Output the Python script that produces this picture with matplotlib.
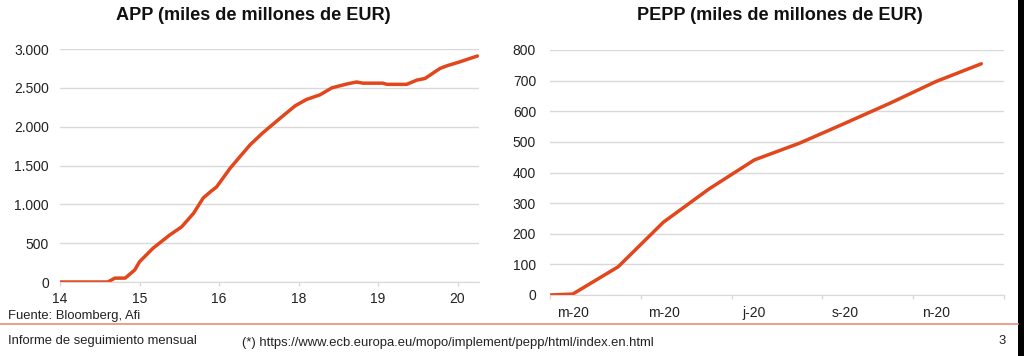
import matplotlib
matplotlib.use("Agg")
import matplotlib.pyplot as plt
from matplotlib.patches import Rectangle
from matplotlib.ticker import FuncFormatter

plt.rcParams['font.family'] = ['Liberation Sans', 'DejaVu Sans']

# APP: time in years since start of 2014, values in bn EUR
app_t = [0.0, 0.60, 0.69, 0.82, 0.94, 1.00, 1.17, 1.38, 1.53, 1.68, 1.80, 1.89,
         1.97, 2.14, 2.26, 2.39, 2.55, 2.77, 2.96, 3.10, 3.27, 3.42, 3.61, 3.73,
         3.81, 4.06, 4.11, 4.36, 4.49, 4.59, 4.78, 4.87, 5.03, 5.25]
app_val = [0, 0, 50, 50, 155, 260, 435, 605, 710, 885, 1080, 1160,
           1225, 1465, 1610, 1765, 1920, 2110, 2270, 2350, 2410, 2500, 2550, 2575,
           2560, 2560, 2545, 2545, 2600, 2620, 2750, 2785, 2835, 2910]
app_ticks = ['14', '15', '16', '18', '19', '20']

# PEPP: months since start of March 2020
pepp_t = [0, 0.5, 1.5, 2.5, 3.5, 4.5, 5.5, 6.5, 7.5, 8.5, 9.5]
pepp_val = [0, 3, 92, 238, 346, 441, 496, 561, 627, 697, 755]
pepp_labels = ['m-20', 'm-20', 'j-20', 's-20', 'n-20']

line_col = '#e2471c'
grid_col = '#d9d9d9'

fig = plt.figure(figsize=(10.24, 3.56), dpi=100)
W, H = 1024, 356


def style(ax):
    for s in ['top', 'right', 'left']:
        ax.spines[s].set_visible(False)
    ax.spines['bottom'].set_color(grid_col)
    ax.grid(axis='y', color=grid_col, linewidth=1)
    ax.set_axisbelow(True)
    ax.tick_params(axis='y', length=0, labelsize=10, colors='#222222', pad=8)
    ax.tick_params(axis='x', which='both', colors=grid_col, labelcolor='#222222',
                   labelsize=10, length=3, width=1)


# left chart
ax1 = fig.add_axes([60 / W, 1 - 282 / H, 419 / W, 233 / H])
ax1.plot(app_t, app_val, color=line_col, linewidth=2.5, solid_capstyle='round')
ax1.set_xlim(0, 5.27)
ax1.set_ylim(0, 3000)
ax1.set_yticks(range(0, 3001, 500))
ax1.yaxis.set_major_formatter(FuncFormatter(lambda v, p: f'{int(v):,}'.replace(',', '.')))
ax1.set_xticks(range(len(app_ticks)))
ax1.set_xticklabels(app_ticks)
style(ax1)
ax1.tick_params(axis='x', pad=4)

# right chart
ax2 = fig.add_axes([550 / W, 1 - 295 / H, 454 / W, 245 / H])
ax2.plot(pepp_t, pepp_val, color=line_col, linewidth=2.5, solid_capstyle='round')
ax2.set_xlim(0, 10)
ax2.set_ylim(0, 800)
ax2.set_yticks(range(0, 801, 100))
ax2.set_xticks(range(0, 11, 2))
ax2.set_xticklabels([])
ax2.set_xticks([0.5, 2.5, 4.5, 6.5, 8.5], minor=True)
ax2.set_xticklabels(pepp_labels, minor=True)
style(ax2)
ax2.tick_params(axis='x', which='minor', length=0, pad=8)
ax2.tick_params(axis='y', pad=10)

# titles
fig.text(253 / W, 1 - 15 / H, 'APP (miles de millones de EUR)', ha='center', va='center',
         fontsize=13.1, fontweight='bold', color='#111111')
fig.text(780 / W, 1 - 16 / H, 'PEPP (miles de millones de EUR)', ha='center', va='center',
         fontsize=13.1, fontweight='bold', color='#111111')

# footer
fig.text(8 / W, 1 - 316 / H, 'Fuente: Bloomberg, Afi', ha='left', va='center',
         fontsize=9.4, color='#222222')
fig.add_artist(plt.Line2D([0, 1018 / W], [1 - 324 / H, 1 - 324 / H], color='#f08a78',
                          linewidth=1.2, transform=fig.transFigure))
fig.text(8 / W, 1 - 341 / H, 'Informe de seguimiento mensual', ha='left', va='center',
         fontsize=9.4, color='#222222')
fig.text(242 / W, 1 - 343 / H,
         '(*) https://www.ecb.europa.eu/mopo/implement/pepp/html/index.en.html',
         ha='left', va='center', fontsize=9.4, color='#222222')
fig.text(1002 / W, 1 - 341 / H, '3', ha='center', va='center', fontsize=9.4, color='#222222')

fig.add_artist(Rectangle((1018 / W, 0), 6 / W, 1, transform=fig.transFigure,
                         facecolor='black', edgecolor='none'))

fig.savefig('out.png', dpi=100)
